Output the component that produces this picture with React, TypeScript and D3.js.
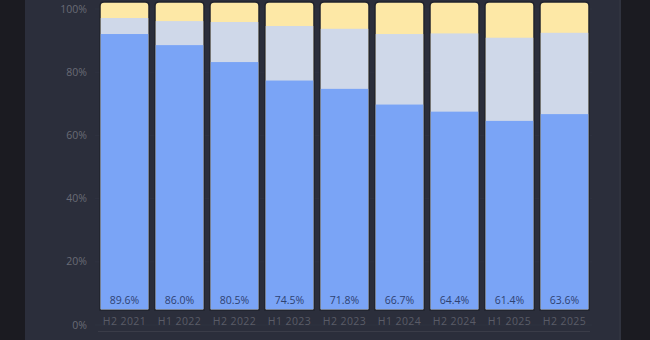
import React from "react";
import * as d3 from "d3";

const categories = ["H2 2021", "H1 2022", "H2 2022", "H1 2023", "H2 2023", "H1 2024", "H2 2024", "H1 2025", "H2 2025"];
const blueValues = [89.6, 86.0, 80.5, 74.5, 71.8, 66.7, 64.4, 61.4, 63.6];
const grayValues = [5.2, 7.8, 13.0, 17.7, 19.5, 22.9, 25.4, 27.0, 26.4];
const yTicks = [0, 20, 40, 60, 80, 100];

const W = 650;
const H = 340;

export default function App() {
  const x = d3.scaleBand<string>().domain(categories).range([100, 589]).paddingInner(0.109).paddingOuter(0);
  const yBar = d3.scaleLinear().domain([0, 100]).range([310, 2]);
  const yAxis = d3.scaleLinear().domain([0, 100]).range([325, 9]);
  const bw = x.bandwidth();
  const r = 4;

  const topPath = (x0: number, y0: number, y1: number) => {
    const w = bw;
    return `M${x0},${y1}V${y0 + r}Q${x0},${y0} ${x0 + r},${y0}H${x0 + w - r}Q${x0 + w},${y0} ${x0 + w},${y0 + r}V${y1}Z`;
  };

  return (
    <svg width={W} height={H} style={{ position: "absolute", left: 0, top: 0, display: "block" }}>
      <rect x={0} y={0} width={W} height={H} fill="#1b1b21" />
      <rect x={25} y={0} width={595} height={H} fill="#2b2e3b" />
      <rect x={619} y={0} width={2} height={H} fill="#30333f" />
      {yTicks.map((t) => (
        <line key={"g" + t} x1={95} x2={592} y1={yAxis(t)} y2={yAxis(t)} stroke="#2f3240" strokeWidth={1} />
      ))}
      {yTicks.map((t) => (
        <text key={"t" + t} x={87} y={yAxis(t)} dy="0.35em" textAnchor="end" fill="#696b76" fontSize={10.5} fontFamily="'Open Sans', sans-serif">
          {t}%
        </text>
      ))}
      {categories.map((c, i) => {
        const x0 = x(c)!;
        const b = blueValues[i];
        const g = grayValues[i];
        return (
          <g key={c}>
            <path d={topPath(x0, yBar(100), yBar(0))} fill="#fde8a6" stroke="#20232d" strokeWidth={1.5} />
            <rect x={x0 + 0.75} y={yBar(b + g)} width={bw - 1.5} height={yBar(0) - yBar(b + g) - 0.75} fill="#cfd8e9" />
            <rect x={x0 + 0.75} y={yBar(b)} width={bw - 1.5} height={yBar(0) - yBar(b) - 0.75} fill="#7aa4f6" />
            <text x={x0 + bw / 2} y={300} dy="0.35em" textAnchor="middle" fill="#2e4272" fontSize={10.5} fontFamily="'Open Sans', sans-serif">
              {b.toFixed(1)}%
            </text>
            <text x={x0 + bw / 2} y={321} dy="0.35em" textAnchor="middle" fill="#5a5c67" fontSize={10.5} letterSpacing={0.4} fontFamily="'Open Sans', sans-serif">
              {c}
            </text>
          </g>
        );
      })}
      <line x1={98} x2={590} y1={331.5} y2={331.5} stroke="#3a3c48" strokeWidth={1} />
    </svg>
  );
}
